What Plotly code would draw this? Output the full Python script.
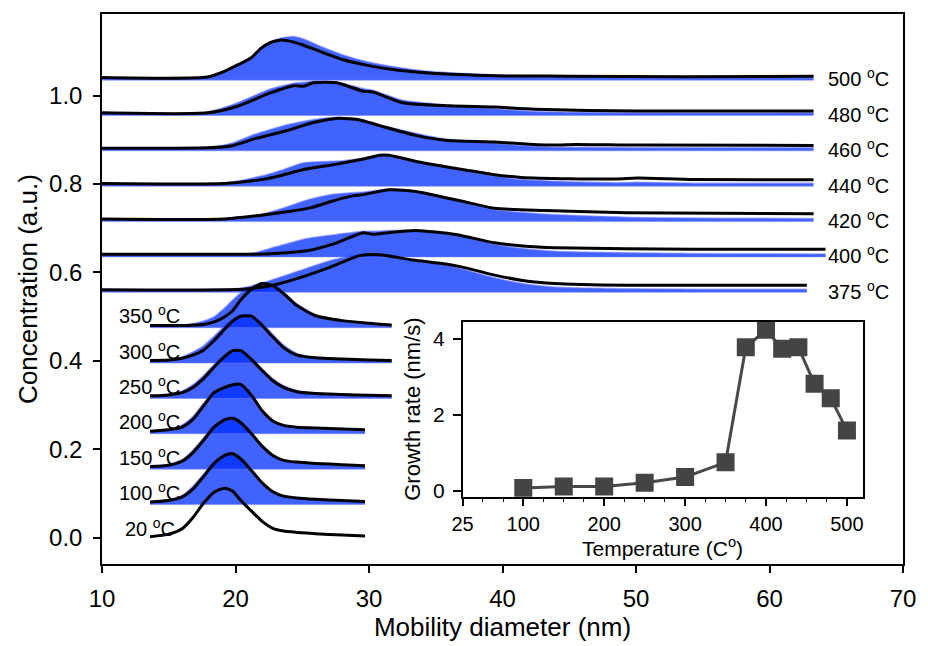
import plotly.graph_objects as go

# ---------------- data ----------------
temps = [20, 100, 150, 200, 250, 300, 350, 375, 400, 420, 440, 460, 480, 500]
offsets = [0.00, 0.08, 0.16, 0.24, 0.32, 0.40, 0.48, 0.56, 0.64, 0.72, 0.80, 0.88, 0.96, 1.04]

x_low = [13.6, 15.0, 16.0, 16.8, 17.6, 18.4, 19.2, 19.8, 20.4, 21.2, 22.0, 22.8, 23.6, 24.6, 26.0, 28.0, 29.7]
k20 = [0.002, 0.008, 0.020, 0.045, 0.078, 0.103, 0.112, 0.105, 0.084, 0.060, 0.037, 0.021, 0.015, 0.012, 0.009, 0.006, 0.004]
k100 = [0.001, 0.004, 0.012, 0.030, 0.058, 0.088, 0.106, 0.110, 0.098, 0.072, 0.044, 0.024, 0.014, 0.010, 0.007, 0.004, 0.002]
b100 = [0.001, 0.006, 0.016, 0.036, 0.064, 0.092, 0.108, 0.110, 0.098, 0.072, 0.044, 0.024, 0.014, 0.009, 0.005, 0.002, 0.001]
k150 = [0.001, 0.004, 0.013, 0.032, 0.060, 0.090, 0.107, 0.110, 0.100, 0.075, 0.047, 0.026, 0.015, 0.011, 0.008, 0.005, 0.003]
b150 = [0.001, 0.006, 0.017, 0.038, 0.066, 0.094, 0.109, 0.111, 0.100, 0.075, 0.047, 0.026, 0.015, 0.010, 0.006, 0.003, 0.001]
k200 = [0.001, 0.004, 0.010, 0.027, 0.058, 0.088, 0.100, 0.106, 0.107, 0.082, 0.047, 0.024, 0.014, 0.010, 0.008, 0.006, 0.004]
b200 = [0.001, 0.006, 0.015, 0.034, 0.064, 0.092, 0.102, 0.107, 0.107, 0.083, 0.048, 0.025, 0.014, 0.009, 0.006, 0.003, 0.001]

x_mid = [13.6, 15.0, 16.0, 16.8, 17.6, 18.4, 19.2, 19.8, 20.4, 21.2, 22.0, 22.8, 23.6, 24.6, 26.0, 28.0, 30.0, 31.7]
k250 = [0.001, 0.003, 0.008, 0.020, 0.040, 0.066, 0.090, 0.103, 0.103, 0.083, 0.058, 0.035, 0.020, 0.010, 0.006, 0.004, 0.002, 0.001]
b250 = [0.001, 0.005, 0.012, 0.026, 0.047, 0.072, 0.094, 0.105, 0.104, 0.086, 0.062, 0.040, 0.024, 0.013, 0.006, 0.003, 0.001, 0.000]
k300 = [0.001, 0.002, 0.006, 0.013, 0.024, 0.046, 0.072, 0.090, 0.101, 0.101, 0.080, 0.054, 0.030, 0.013, 0.007, 0.004, 0.002, 0.001]
b300 = [0.001, 0.003, 0.009, 0.020, 0.034, 0.056, 0.080, 0.095, 0.104, 0.103, 0.085, 0.060, 0.036, 0.017, 0.008, 0.003, 0.001, 0.000]
k350 = [0.000, 0.000, 0.000, 0.001, 0.002, 0.008, 0.020, 0.034, 0.058, 0.082, 0.095, 0.090, 0.072, 0.045, 0.022, 0.011, 0.005, 0.001]
b350 = [0.000, 0.000, 0.001, 0.004, 0.010, 0.020, 0.040, 0.058, 0.074, 0.088, 0.097, 0.093, 0.076, 0.049, 0.025, 0.011, 0.004, 0.000]

x375 = [10, 20.5, 22.6, 24.6, 27.1, 29.3, 30.8, 33.3, 35.5, 37.0, 39.4, 41.5, 43.9, 49.3, 55.0, 62.8]
k375 = [0.001, 0.002, 0.010, 0.026, 0.052, 0.078, 0.080, 0.068, 0.060, 0.052, 0.034, 0.022, 0.015, 0.011, 0.011, 0.011]
b375 = [0.000, 0.005, 0.022, 0.042, 0.067, 0.080, 0.080, 0.068, 0.058, 0.048, 0.028, 0.015, 0.007, 0.003, 0.002, 0.002]

x400 = [10, 21.3, 23.0, 25.35, 27.58, 29.56, 30.3, 31.5, 33.5, 36.5, 39.4, 41.5, 43.9, 54.3, 64.2]
k400 = [0.001, 0.001, 0.003, 0.009, 0.027, 0.050, 0.046, 0.050, 0.055, 0.046, 0.027, 0.020, 0.016, 0.0126, 0.0126]
b400 = [0.000, 0.004, 0.018, 0.037, 0.046, 0.053, 0.053, 0.055, 0.056, 0.046, 0.024, 0.014, 0.008, 0.003, 0.002]

x420 = [10, 19.2, 22.1, 23.6, 25.6, 27.1, 28.6, 29.56, 31.5, 33.5, 35.0, 37.0, 39.4, 43.15, 49.3, 63.3]
k420 = [0.001, 0.001, 0.010, 0.016, 0.026, 0.040, 0.052, 0.056, 0.067, 0.063, 0.054, 0.041, 0.025, 0.020, 0.015, 0.0127]
b420 = [0.000, 0.002, 0.013, 0.026, 0.046, 0.056, 0.060, 0.062, 0.068, 0.064, 0.054, 0.040, 0.022, 0.012, 0.005, 0.002]

x440 = [10, 19.2, 21.9, 23.5, 25.1, 27.58, 29.5, 30.8, 31.5, 34.0, 37.0, 39.4, 41.4, 45.0, 48.6, 50.1, 54.3, 63.3]
k440 = [0.001, 0.001, 0.010, 0.020, 0.033, 0.045, 0.056, 0.065, 0.065, 0.048, 0.033, 0.021, 0.015, 0.012, 0.0115, 0.0135, 0.0100, 0.0096]
b440 = [0.000, 0.003, 0.018, 0.032, 0.048, 0.052, 0.058, 0.063, 0.063, 0.048, 0.031, 0.018, 0.010, 0.005, 0.003, 0.004, 0.002, 0.002]

x460 = [10, 18.0, 19.66, 21.4, 23.87, 25.84, 27.58, 29.3, 30.8, 33.5, 35.7, 39.4, 42.0, 44.1, 45.4, 50.0, 63.3]
k460 = [0.001, 0.002, 0.006, 0.022, 0.041, 0.059, 0.0685, 0.065, 0.052, 0.030, 0.019, 0.015, 0.010, 0.008, 0.0095, 0.008, 0.0074]
b460 = [0.000, 0.003, 0.012, 0.032, 0.054, 0.066, 0.071, 0.067, 0.054, 0.035, 0.022, 0.012, 0.006, 0.003, 0.003, 0.002, 0.002]

x480 = [10, 17.9, 20.16, 22.6, 24.36, 25.1, 25.84, 27.58, 29.56, 30.3, 32.5, 36.0, 39.4, 42.4, 50.0, 63.3]
k480 = [0.001, 0.001, 0.016, 0.046, 0.0625, 0.061, 0.069, 0.069, 0.050, 0.048, 0.024, 0.017, 0.014, 0.009, 0.005, 0.005]
b480 = [0.000, 0.003, 0.024, 0.055, 0.068, 0.070, 0.073, 0.071, 0.056, 0.052, 0.030, 0.018, 0.010, 0.004, 0.001, 0.001]

x500 = [10, 17.9, 19.17, 20.2, 21.15, 21.9, 22.6, 23.37, 24.36, 25.1, 26.5, 28.07, 29.8, 31.53, 34.5, 39.4, 45.0, 53.7, 63.3]
k500 = [0.001, 0.002, 0.015, 0.030, 0.045, 0.067, 0.080, 0.0855, 0.081, 0.074, 0.058, 0.041, 0.029, 0.020, 0.011, 0.005, 0.004, 0.0025, 0.0036]
b500 = [0.000, 0.002, 0.015, 0.030, 0.046, 0.066, 0.082, 0.090, 0.0935, 0.088, 0.070, 0.052, 0.037, 0.027, 0.015, 0.007, 0.003, 0.001, 0.001]

inset_temp = [100, 150, 200, 250, 300, 350, 375, 400, 420, 440, 460, 480, 500]
growth_rate = [0.07, 0.11, 0.11, 0.21, 0.36, 0.75, 3.78, 4.24, 3.74, 3.78, 2.82, 2.44, 1.59]

x_ticks_main = [10, 20, 30, 40, 50, 60, 70]
y_ticks_main = [0.0, 0.2, 0.4, 0.6, 0.8, 1.0]
x_ticks_inset = [25, 100, 200, 300, 400, 500]
y_ticks_inset = [0, 2, 4]

# ---------------- assemble ----------------
curves = {
    20: (x_low, k20, None),
    100: (x_low, k100, b100),
    150: (x_low, k150, b150),
    200: (x_low, k200, b200),
    250: (x_mid, k250, b250),
    300: (x_mid, k300, b300),
    350: (x_mid, k350, b350),
    375: (x375, k375, b375),
    400: (x400, k400, b400),
    420: (x420, k420, b420),
    440: (x440, k440, b440),
    460: (x460, k460, b460),
    480: (x480, k480, b480),
    500: (x500, k500, b500),
}

FONT = "Liberation Sans, Arial, Helvetica, sans-serif"
FILL = "rgba(0,45,255,0.75)"
EDGE = "rgba(110,120,255,0.55)"

fig = go.Figure()

# fills first
for t, off in zip(temps, offsets):
    xs, ks, bs = curves[t]
    if bs is None:
        continue
    fig.add_trace(go.Scatter(x=xs, y=[off - 0.005] * len(xs), mode="lines",
                             line=dict(color="rgba(120,130,255,0.5)", width=1),
                             showlegend=False, hoverinfo="skip"))
    fig.add_trace(go.Scatter(x=xs, y=[off + v for v in bs], mode="lines",
                             line=dict(color=EDGE, width=1.5, shape="spline", smoothing=0.6),
                             fill="tonexty", fillcolor=FILL, showlegend=False, hoverinfo="skip"))

# black lines on top
for t, off in zip(temps, offsets):
    xs, ks, bs = curves[t]
    fig.add_trace(go.Scatter(x=xs, y=[off + v for v in ks], mode="lines",
                             line=dict(color="black", width=3, shape="spline", smoothing=0.6),
                             showlegend=False, name=f"{t} °C"))

# inset
fig.add_trace(go.Scatter(x=inset_temp, y=growth_rate, mode="lines+markers",
                         xaxis="x2", yaxis="y2",
                         line=dict(color="#484848", width=3),
                         marker=dict(symbol="square", size=18, color="#444444"),
                         showlegend=False))

# labels
annotations = []
for t, off in zip(temps, offsets):
    if t >= 375:
        annotations.append(dict(x=64.2, y=off, xref="x", yref="y", xanchor="left", yanchor="middle",
                                text=f"{t} <sup>o</sup>C", showarrow=False,
                                font=dict(family=FONT, size=20, color="black")))
    else:
        lx = 11.55 if t == 20 else 11.1
        annotations.append(dict(x=lx, y=off + 0.024, xref="x", yref="y", xanchor="left", yanchor="middle",
                                text=f"{t} <sup>o</sup>C", showarrow=False,
                                font=dict(family=FONT, size=20, color="black")))

annotations.append(dict(x=0.70, y=0.031, xref="paper", yref="paper", xanchor="center", yanchor="middle",
                        text="Temperature (C<sup>o</sup>)", showarrow=False,
                        font=dict(family=FONT, size=21, color="black")))

fig.update_layout(
    width=928, height=646,
    margin=dict(l=102, r=16, t=12, b=76),
    paper_bgcolor="white", plot_bgcolor="white",
    font=dict(family=FONT, color="black"),
    annotations=annotations,
    xaxis=dict(range=[10, 70], tickvals=x_ticks_main, ticks="outside", ticklen=7, tickwidth=1.5,
               tickcolor="black", showline=True, linecolor="black", linewidth=1.5, mirror=True,
               showgrid=False, zeroline=False, tickfont=dict(size=24), ticklabelstandoff=5,
               title=dict(text="Mobility diameter (nm)", font=dict(size=26), standoff=4)),
    yaxis=dict(range=[-0.0595, 1.1846], tickvals=y_ticks_main, tickformat=".1f", ticks="outside",
               ticklen=7, tickwidth=1.5, tickcolor="black", showline=True, linecolor="black",
               linewidth=1.5, mirror=True, showgrid=False, zeroline=False,
               tickfont=dict(size=24), ticklabelstandoff=6,
               title=dict(text="Concentration (a.u.)", font=dict(size=26), standoff=4)),
    xaxis2=dict(domain=[0.4502, 0.9502], anchor="y2", range=[25, 520], tickvals=x_ticks_inset,
                ticks="outside", ticklen=8, tickwidth=1.5, tickcolor="black",
                minor=dict(tickmode="linear", tick0=0, dtick=25, ticks="outside", ticklen=4,
                           tickwidth=1.2, tickcolor="black"),
                showline=True, linecolor="black", linewidth=1.5, mirror=True,
                showgrid=False, zeroline=False, tickfont=dict(size=20), ticklabelstandoff=1),
    yaxis2=dict(domain=[0.1224, 0.4409], anchor="x2", range=[-0.156, 4.46], tickvals=y_ticks_inset,
                ticks="outside", ticklen=8, tickwidth=1.5, tickcolor="black",
                showline=True, linecolor="black", linewidth=1.5, mirror=True,
                showgrid=False, zeroline=False, tickfont=dict(size=21), ticklabelstandoff=4,
                title=dict(text="Growth rate (nm/s)", font=dict(size=22), standoff=6)),
)

fig.write_html("out.html")
